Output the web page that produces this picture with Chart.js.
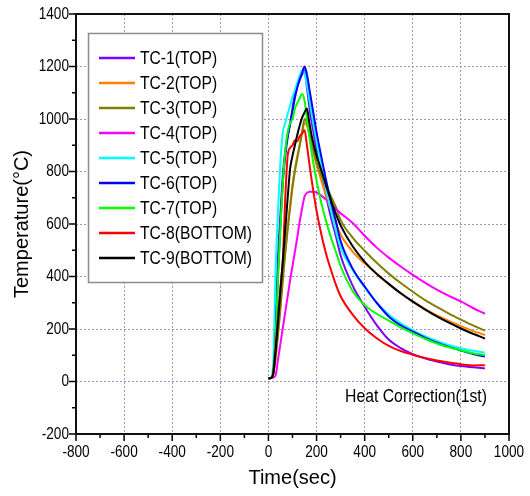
<!DOCTYPE html>
<html>
<head>
<meta charset="utf-8">
<script src="https://cdn.jsdelivr.net/npm/chart.js@4.4.1/dist/chart.umd.min.js"></script>
<style>
    html, body { margin: 0; padding: 0; background: #fff; }
    #wrap { width: 530px; height: 496px; }
</style>
</head>
<body>
<div id="wrap"><canvas id="temp-chart" width="530" height="496"></canvas></div>
<script>
// time (sec) shared by every thermocouple
const times = [0, 10, 20, 30, 40, 50, 60, 70, 80, 90, 100, 110, 120, 130, 140, 150, 160, 170, 180, 190,
               200, 220, 240, 260, 280, 300, 350, 400, 450, 500, 550, 600, 650, 700, 750, 800, 850, 900];

const tc1 = [12, 13, 40, 230, 480, 640, 790, 880, 940, 980, 1040, 1095, 1125, 1150, 1170, 1185, 1120, 1045, 985, 935,
             885, 795, 705, 625, 555, 480, 365, 285, 215, 160, 127, 104, 88, 76, 66, 59, 54, 50];
const tc2 = [12, 13, 30, 100, 190, 290, 400, 500, 590, 670, 750, 810, 860, 900, 950, 985, 975, 940, 900, 860,
             825, 765, 705, 655, 605, 560, 495, 450, 410, 372, 336, 305, 277, 252, 231, 211, 193, 177];
const tc3 = [12, 13, 28, 90, 180, 280, 390, 490, 580, 660, 740, 800, 850, 900, 950, 1000, 985, 945, 905, 870,
             835, 785, 745, 705, 665, 615, 548, 498, 452, 411, 375, 342, 311, 284, 259, 236, 214, 194];
const tc4 = [12, 13, 15, 25, 85, 145, 205, 265, 325, 385, 440, 495, 550, 610, 660, 705, 718, 723, 723, 722,
             720, 708, 692, 674, 657, 641, 604, 555, 510, 472, 438, 406, 377, 350, 326, 305, 280, 258];
const tc5 = [12, 14, 70, 430, 650, 840, 950, 985, 1020, 1050, 1085, 1110, 1140, 1165, 1185, 1175, 1130, 1075, 1020, 965,
             915, 815, 730, 650, 575, 510, 425, 358, 300, 255, 222, 196, 173, 155, 139, 127, 117, 110];
const tc6 = [12, 13, 35, 180, 420, 600, 760, 860, 930, 980, 1030, 1080, 1120, 1150, 1175, 1200, 1170, 1115, 1060, 1005,
             950, 855, 765, 685, 612, 535, 430, 362, 300, 248, 214, 190, 167, 148, 132, 118, 105, 95];
const tc7 = [12, 13, 35, 170, 400, 590, 760, 880, 950, 985, 1000, 1040, 1060, 1080, 1095, 1070, 1000, 935, 870, 815,
             765, 680, 610, 548, 495, 440, 345, 291, 258, 232, 206, 184, 163, 145, 130, 119, 108, 100];
const tc8 = [12, 14, 30, 130, 250, 360, 470, 700, 860, 890, 900, 920, 915, 935, 945, 958, 900, 830, 765, 705,
             650, 560, 485, 425, 370, 325, 255, 203, 165, 136, 116, 102, 90, 80, 72, 66, 61, 62];
const tc9 = [12, 13, 30, 120, 230, 350, 460, 580, 700, 810, 860, 900, 940, 975, 1005, 1025, 1040, 985, 935, 895,
             860, 805, 745, 690, 640, 595, 515, 456, 410, 372, 336, 304, 275, 248, 224, 202, 182, 164];

const seriesValues = [tc1, tc2, tc3, tc4, tc5, tc6, tc7, tc8, tc9];
const seriesLabels = ['TC-1(TOP)', 'TC-2(TOP)', 'TC-3(TOP)', 'TC-4(TOP)', 'TC-5(TOP)',
                      'TC-6(TOP)', 'TC-7(TOP)', 'TC-8(BOTTOM)', 'TC-9(BOTTOM)'];
const seriesColors = ['#8000ff', '#ff8000', '#808000', '#ff00ff', '#00ffff',
                      '#0000ff', '#00ff00', '#ff0000', '#000000'];

const xTicks = [-800, -600, -400, -200, 0, 200, 400, 600, 800, 1000];
const yTicks = [-200, 0, 200, 400, 600, 800, 1000, 1200, 1400];
const noteText = 'Heat Correction(1st)';

const FONT = '"Liberation Sans", Arial, sans-serif';

// the reference uses a condensed face, so squeeze text horizontally
function narrowText(ctx, text, x, y, size, align, squeeze) {
    ctx.save();
    ctx.font = size + 'px ' + FONT;
    ctx.textAlign = align;
    ctx.textBaseline = 'middle';
    ctx.translate(x, y);
    ctx.scale(squeeze, 1);
    ctx.fillText(text, 0, 0);
    ctx.restore();
}

// frame, outside ticks (major + minor), tick labels, note and the legend box
const framePlugin = {
    id: 'frame',
    afterDraw(chart) {
        const { ctx, chartArea: a, scales: { x, y } } = chart;
        ctx.save();

        ctx.strokeStyle = '#000';
        ctx.lineWidth = 1.5;
        ctx.beginPath();
        xTicks.forEach((v, i) => {
            const px = x.getPixelForValue(v);
            ctx.moveTo(px, a.bottom);
            ctx.lineTo(px, a.bottom + 7);
            if (i < xTicks.length - 1) {
                const mx = x.getPixelForValue((v + xTicks[i + 1]) / 2);
                ctx.moveTo(mx, a.bottom);
                ctx.lineTo(mx, a.bottom + 4);
            }
        });
        yTicks.forEach((v, i) => {
            const py = y.getPixelForValue(v);
            ctx.moveTo(a.left, py);
            ctx.lineTo(a.left - 7, py);
            if (i < yTicks.length - 1) {
                const my = y.getPixelForValue((v + yTicks[i + 1]) / 2);
                ctx.moveTo(a.left, my);
                ctx.lineTo(a.left - 4, my);
            }
        });
        ctx.stroke();

        ctx.lineWidth = 2;
        ctx.strokeStyle = '#111';
        ctx.strokeRect(a.left, a.top, a.right - a.left, a.bottom - a.top);

        ctx.fillStyle = '#000';
        xTicks.forEach(v => narrowText(ctx, String(v), x.getPixelForValue(v), a.bottom + 18, 17, 'center', 0.8));
        yTicks.forEach(v => narrowText(ctx, String(v), a.left - 7, y.getPixelForValue(v), 17, 'right', 0.8));

        narrowText(ctx, noteText, 487, 397, 19, 'right', 0.83);

        // legend
        const lx = 88.5, ly = 33.5, lw = 174, lh = 249;
        ctx.fillStyle = '#fff';
        ctx.fillRect(lx, ly, lw, lh);
        ctx.strokeStyle = '#8c8c8c';
        ctx.lineWidth = 1.5;
        ctx.strokeRect(lx, ly, lw, lh);

        chart.data.datasets.forEach((ds, i) => {
            const ry = 58 + i * 25;
            ctx.strokeStyle = ds.borderColor;
            ctx.lineWidth = 2.5;
            ctx.beginPath();
            ctx.moveTo(99, ry);
            ctx.lineTo(135, ry);
            ctx.stroke();
            ctx.fillStyle = '#000';
            narrowText(ctx, ds.label, 140, ry + 1, 18, 'left', 0.87);
        });

        ctx.restore();
    }
};

const datasets = seriesValues.map((vals, i) => ({
    label: seriesLabels[i],
    data: times.map((t, j) => ({ x: t, y: vals[j] })),
    borderColor: seriesColors[i],
    backgroundColor: seriesColors[i],
    borderWidth: 2,
    pointRadius: 0,
    cubicInterpolationMode: 'monotone',
    order: seriesValues.length - i
}));

const gridColor = '#9d93d6';

new Chart(document.getElementById('temp-chart'), {
    type: 'line',
    data: { datasets },
    options: {
        responsive: false,
        animation: false,
        events: [],
        layout: { padding: { top: 14, right: 21, left: 0, bottom: 0 } },
        plugins: {
            legend: { display: false },
            tooltip: { enabled: false }
        },
        scales: {
            x: {
                type: 'linear',
                min: -800,
                max: 1000,
                afterFit(s) { s.height = 62; },
                afterBuildTicks(s) { s.ticks = xTicks.map(v => ({ value: v })); },
                ticks: { display: false },
                grid: { color: gridColor, lineWidth: 1, drawTicks: false },
                border: { display: false, dash: [2, 2] },
                title: {
                    display: true,
                    text: 'Time(sec)',
                    color: '#000',
                    font: { family: FONT, size: 20 },
                    padding: { top: 0, bottom: 6 }
                }
            },
            y: {
                min: -200,
                max: 1400,
                afterFit(s) { s.width = 76; },
                afterBuildTicks(s) { s.ticks = yTicks.map(v => ({ value: v })); },
                ticks: { display: false },
                grid: { color: gridColor, lineWidth: 1, drawTicks: false },
                border: { display: false, dash: [2, 2] },
                title: {
                    display: true,
                    text: 'Temperature(°C)',
                    color: '#000',
                    font: { family: FONT, size: 20 },
                    padding: { top: 10, bottom: 0 }
                }
            }
        }
    },
    plugins: [framePlugin]
});
</script>
</body>
</html>
